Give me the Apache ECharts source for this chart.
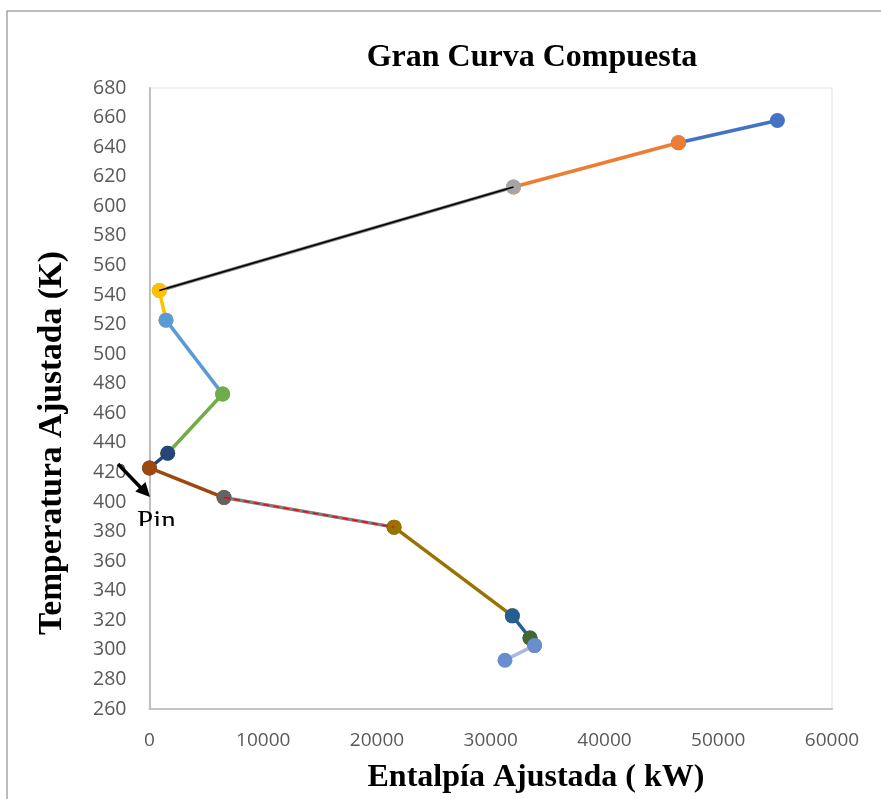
<!DOCTYPE html>
<html>
<head>
<meta charset="utf-8">
<script src="https://cdn.jsdelivr.net/npm/echarts@6/dist/echarts.min.js"></script>
<style>
  html, body { margin: 0; padding: 0; background: #fff; }
  #main { width: 881px; height: 799px; }
</style>
</head>
<body>
<div id="main"></div>
<script>
// puntos de la gran curva compuesta (de arriba hacia abajo)
var enthalpy = [55200, 46500, 32000, 860, 1450, 6430, 1600, 0, 6550, 21500, 31900, 33450, 33850, 31250];
var temperature = [658, 643, 613, 543, 523, 473, 433, 423, 403, 383, 323, 308, 303, 293];

// un color por tramo
var markerColors = ['#4472C4', '#ED7D31', '#A5A5A5', '#FFC000', '#5B9BD5', '#70AD47', '#264478',
    '#9E480E', '#636363', '#997300', '#255E91', '#43682B', '#698ED0'];
var lineColors = ['#4472C4', '#ED7D31', '#7F7F7F', '#FFC000', '#5B9BD5', '#70AD47', '#264478',
    '#9E480E', '#7F7F7F', '#997300', '#255E91', '#43682B', '#A9B8E0'];

var xTicks = { min: 0, max: 60000, interval: 10000 };
var yTicks = { min: 260, max: 680, interval: 20 };

function segment(i) {
    return [[enthalpy[i], temperature[i]], [enthalpy[i + 1], temperature[i + 1]]];
}

var series = [];
for (var i = 0; i < enthalpy.length - 1; i++) {
    series.push({
        type: 'line',
        data: segment(i),
        symbol: 'circle',
        symbolSize: 15,
        itemStyle: { color: markerColors[i] },
        lineStyle: { color: lineColors[i], width: 3.5 },
        z: 2 + i * 0.01
    });
}
// linea negra fina sobre el tramo 613 -> 543
series.push({
    type: 'line', data: segment(2), symbol: 'none',
    lineStyle: { color: '#000000', width: 1.6 }, z: 3
});
// linea roja discontinua sobre el tramo 403 -> 383
series.push({
    type: 'line', data: segment(8), symbol: 'none',
    lineStyle: { color: '#FF0000', width: 1.5, type: [6, 4] }, z: 3
});

var chart = echarts.init(document.getElementById('main'));
var serif = "'Liberation Serif', 'Times New Roman', serif";
var sans = "'Open Sans', 'Noto Sans', sans-serif";

chart.setOption({
    animation: false,
    backgroundColor: '#ffffff',
    grid: {
        left: 149.5, right: 49, top: 88, bottom: 90,
        show: true, borderColor: '#e9ecf5', borderWidth: 1.5
    },
    xAxis: {
        type: 'value',
        min: xTicks.min, max: xTicks.max, interval: xTicks.interval,
        axisLine: { show: true, lineStyle: { color: '#c4c4c4', width: 2 } },
        axisTick: { show: false },
        splitLine: { show: false },
        axisLabel: {
            color: '#595959', fontSize: 19, fontFamily: sans, margin: 22,
            formatter: function (v) { return String(v); }
        }
    },
    yAxis: {
        type: 'value',
        min: yTicks.min, max: yTicks.max, interval: yTicks.interval,
        axisLine: { show: true, lineStyle: { color: '#bfbfbf', width: 2 } },
        axisTick: { show: false },
        splitLine: { show: false },
        axisLabel: { color: '#595959', fontSize: 19.5, fontFamily: sans, margin: 23 }
    },
    series: series,
    graphic: [
        {
            type: 'rect', silent: true, z: -1,
            shape: { x: 7, y: 11, width: 1000, height: 1000 },
            style: { fill: null, stroke: '#a6a6a6', lineWidth: 1.5 }
        },
        {
            type: 'text', z: 10,
            x: 532, y: 58,
            style: {
                text: 'Gran Curva Compuesta', fill: '#000', font: 'bold 32px ' + serif,
                align: 'center', verticalAlign: 'middle'
            }
        },
        {
            type: 'text', z: 10,
            x: 536, y: 778,
            style: {
                text: 'Entalpía Ajustada ( kW)', fill: '#000', font: 'bold 32px ' + serif,
                align: 'center', verticalAlign: 'middle'
            }
        },
        {
            type: 'text', z: 10,
            x: 52, y: 443, rotation: Math.PI / 2,
            style: {
                text: 'Temperatura Ajustada (K)', fill: '#000', font: 'bold 33.5px ' + serif,
                align: 'center', verticalAlign: 'middle'
            }
        },
        {
            type: 'line', z: 20,
            shape: { x1: 118, y1: 464, x2: 142, y2: 489 },
            style: { stroke: '#000', lineWidth: 3.5 }
        },
        {
            type: 'polygon', z: 20,
            shape: { points: [[150, 497], [135.3, 491.6], [145.5, 482]] },
            style: { fill: '#000' }
        },
        {
            type: 'text', z: 20,
            x: 137, y: 508,
            style: { text: 'Pin', fill: '#000', font: '29px ' + serif }
        },
        {
            type: 'rect', z: 21,
            shape: { x: 134, y: 526, width: 14, height: 24 },
            style: { fill: '#fff' }
        },
        {
            type: 'rect', z: 21,
            shape: { x: 151, y: 526, width: 34, height: 24 },
            style: { fill: '#fff' }
        }
    ]
});
</script>
</body>
</html>
